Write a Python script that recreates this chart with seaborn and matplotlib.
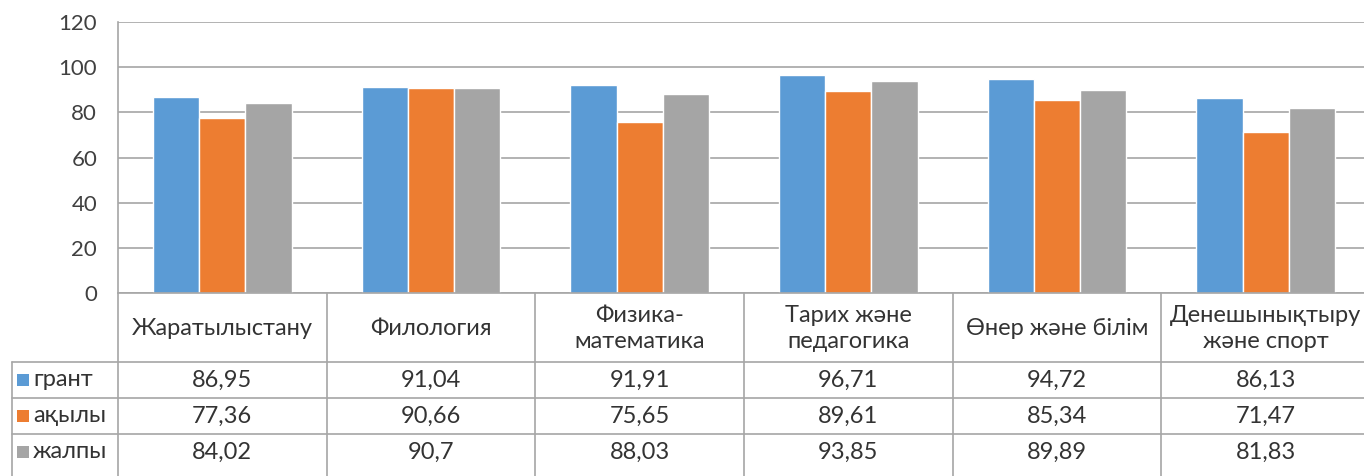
import numpy as np
import pandas as pd
import matplotlib
matplotlib.use("Agg")
import matplotlib.pyplot as plt
import seaborn as sns
from matplotlib.patches import Rectangle

# данные
categories = ["Жаратылыстану", "Филология", "Физика-\nматематика",
              "Тарих және\nпедагогика", "Өнер және білім", "Денешынықтыру\nжәне спорт"]
series = ["грант", "ақылы", "жалпы"]
grant = [86.95, 91.04, 91.91, 96.71, 94.72, 86.13]
akyly = [77.36, 90.66, 75.65, 89.61, 85.34, 71.47]
zhalpy = [84.02, 90.7, 88.03, 93.85, 89.89, 81.83]
colors = ["#5B9BD5", "#ED7D31", "#A5A5A5"]
yticks = [0, 20, 40, 60, 80, 100, 120]

values = [grant, akyly, zhalpy]
df = pd.DataFrame({
    "cat": np.tile(np.arange(len(categories)), len(series)),
    "series": np.repeat(series, len(categories)),
    "value": np.concatenate(values),
})

sns.set_theme(style="white")
plt.rcParams["font.family"] = ["Lato", "DejaVu Sans"]

W, H = 1364, 476
fig = plt.figure(figsize=(W / 100, H / 100), dpi=100)

# область графика (в пикселях)
left, right, top, bottom = 118, 1370, 22, 293
ax = fig.add_axes([left / W, 1 - bottom / H, (right - left) / W, (bottom - top) / H])
sns.barplot(data=df, x="cat", y="value", hue="series", palette=colors,
            width=0.665, gap=0, saturation=1, ax=ax, legend=False, errorbar=None)
ax.set_ylim(0, 120)
ax.set_xlim(-0.5, len(categories) - 0.5)
ax.set_yticks(yticks)
ax.set_yticklabels([str(t) for t in yticks], fontsize=16, color="#404040")
ax.tick_params(axis="y", length=0, pad=15)
ax.set_xticks([])
ax.set_xlabel("")
ax.set_ylabel("")
ax.grid(axis="y", color="#A6A6A6", linewidth=1.2)
ax.set_axisbelow(True)
for s in ["top", "right", "bottom"]:
    ax.spines[s].set_visible(False)
ax.spines["left"].set_color("#A6A6A6")
ax.spines["left"].set_linewidth(1.2)

# таблица данных
tab = fig.add_axes([0, 0, 1, 1], facecolor="none")
tab.set_xlim(0, W)
tab.set_ylim(H, 0)
tab.axis("off")

line_kw = dict(color="#A6A6A6", linewidth=1.2)
colw = (right - left) / len(categories)
header_bot = 362
row_h = 36
n_rows = len(series)
fs = 17

# линии
tab.plot([left, right], [bottom, bottom], **line_kw)
tab.plot([12, right], [header_bot, header_bot], **line_kw)
for r in range(1, n_rows):
    y = header_bot + r * row_h
    tab.plot([12, right], [y, y], **line_kw)
tab.plot([12, 12], [header_bot, H], **line_kw)
for i in range(len(categories) + 1):
    x = left + i * colw
    tab.plot([x, x], [bottom, H], **line_kw)

text_color = "#333333"
for i, c in enumerate(categories):
    xc = left + (i + 0.5) * colw
    tab.text(xc, (bottom + header_bot) / 2 + 1, c, ha="center", va="center",
             fontsize=fs, color=text_color, linespacing=1.3)
    for r, vals in enumerate(values):
        yc = header_bot + (r + 0.5) * row_h
        tab.text(xc, yc, f"{vals[i]:g}".replace(".", ","), ha="center", va="center",
                 fontsize=fs, color=text_color)

for r, name in enumerate(series):
    yc = header_bot + (r + 0.5) * row_h
    tab.add_patch(Rectangle((17, yc - 6), 12, 12, color=colors[r], linewidth=0))
    tab.text(33, yc, name, ha="left", va="center", fontsize=fs, color=text_color)

fig.savefig("out.png", dpi=100)
